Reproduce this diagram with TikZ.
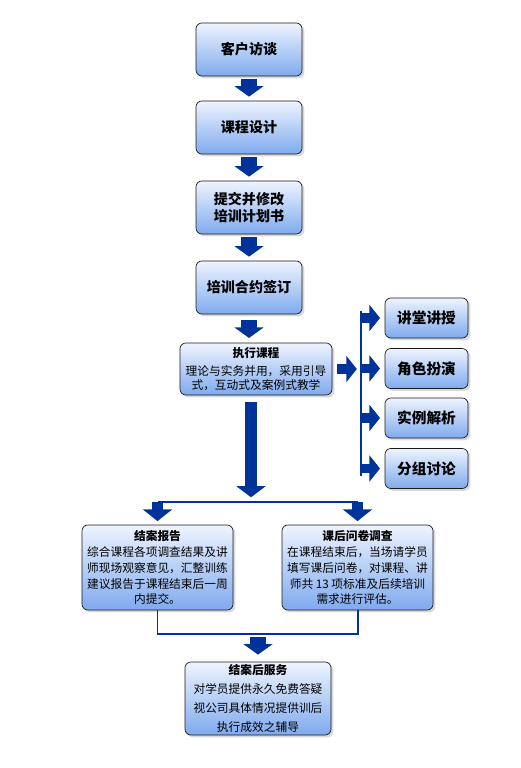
\documentclass[tikz,border=0pt]{standalone}
\usepackage{fontspec}
\setmainfont{Noto Sans CJK SC}
\usetikzlibrary{arrows.meta,shadows}
\definecolor{flowBlue}{HTML}{003399}
\definecolor{boxTop}{HTML}{EEF4FE}
\definecolor{boxBottom}{HTML}{7FAAEE}
\definecolor{boxLine}{HTML}{1A1A1A}

\begin{document}
\begin{tikzpicture}[
  x=0.03cm, y=-0.03cm,
  box/.style={
    draw=boxLine, line width=0.6pt, rounded corners=5pt,
    top color=boxTop, bottom color=boxBottom,
    drop shadow={shadow xshift=2pt, shadow yshift=-2pt, opacity=0.3},
    minimum width=#1, align=center, inner sep=2pt,
  },
  stepbox/.style={box=3.18cm, minimum height=1.59cm, font=\fontsize{12}{15}\selectfont\bfseries},
  subbox/.style={box=2.49cm, minimum height=1.2cm, font=\fontsize{12.5}{14}\selectfont\bfseries},
  textbox/.style={box=#1, font=\fontsize{10}{13.6}\selectfont},
  fatarr/.style={-{Triangle[length=9pt, width=24.5pt]}, line width=13.6pt, flowBlue},
  bigarr/.style={-{Triangle[length=9.5pt, width=24.5pt]}, line width=10pt, flowBlue},
  sidearr/.style={-{Triangle[length=9pt, width=22pt]}, line width=8pt, flowBlue},
  splitarr/.style={-{Triangle[length=10pt, width=24.5pt]}, line width=9pt, flowBlue},
  busline/.style={line width=2.5pt, flowBlue},
  thinline/.style={line width=1.7pt, flowBlue},
]
\useasboundingbox (0,0) rectangle (520,768);

% Main steps
\node[stepbox] (visit) at (249,49.5) {客户访谈};
\node[stepbox] (design) at (249,127.5) {课程设计};
\node[stepbox] (plan) at (249,207.5) {提交并修改\\培训计划书};
\node[stepbox] (sign) at (249,287.5) {培训合约签订};

% Course delivery
\node[textbox=4.56cm, minimum height=1.56cm, font=\fontsize{10}{12}\selectfont] (exec) at (256,369)
  {{\bfseries 执行课程}\\[3pt]理论与实务并用，采用引导\\式，互动式及案例式教学};

% Teaching methods
\node[subbox] (lecture) at (426.5,318) {讲堂讲授};
\node[subbox] (role) at (426.5,368.5) {角色扮演};
\node[subbox] (case) at (426.5,418) {实例解析};
\node[subbox] (group) at (426.5,468.5) {分组讨论};
\coordinate (busTop) at (361,311);
\coordinate (busBottom) at (361,476);

% Evaluation
\node[textbox=4.53cm, minimum height=2.55cm] (report) at (157.5,567.5)
  {{\bfseries 结案报告}\\综合课程各项调查结果及讲\\师现场观察意见，汇整训练\\建议报告于课程结束后一周\\内提交。};
\node[textbox=4.53cm, minimum height=2.55cm] (survey) at (357.5,567.5)
  {{\bfseries 课后问卷调查}\\在课程结束后，当场请学员\\填写课后问卷，对课程、讲\\师共 13 项标准及后续培训\\需求进行评估。};
\coordinate (split) at (251,502);
\coordinate (join) at (258,634);

% Follow-up
\node[textbox=4.38cm, minimum height=2.19cm, font=\fontsize{10}{16}\selectfont] (after) at (258,698.5)
  {{\bfseries 结案后服务}\\对学员提供永久免费答疑\\视公司具体情况提供训后\\执行成效之辅导};

% Arrows
\draw[fatarr, shorten <=2.5pt, shorten >=3.4pt] (visit) -- (design);
\draw[fatarr, shorten <=2.5pt, shorten >=3.4pt] (design) -- (plan);
\draw[fatarr, shorten <=2.5pt, shorten >=3.4pt] (plan) -- (sign);
\draw[fatarr, shorten <=5pt, shorten >=4pt] (sign.south) -- (sign.south |- exec.north);
\draw[sidearr, shorten <=4pt, shorten >=3.5pt] (exec.east) -- (exec.east -| busTop);
\draw[busline] (busTop) -- (busBottom);
\foreach \m in {lecture,role,case,group}
  \draw[sidearr, shorten >=4pt] (busTop |- \m.west) -- (\m.west);
\draw[bigarr, shorten <=6pt, shorten >=4pt] (split |- exec.south) -- (split);
\draw[thinline] (split -| report) -- (split -| survey);
\draw[splitarr, shorten >=3pt] (split -| report) -- (report);
\draw[splitarr, shorten >=3pt] (split -| survey) -- (survey);
\draw[thinline] (report) -- (report |- join) -- (survey |- join) -- (survey);
\draw[fatarr, shorten <=2.5pt, shorten >=6pt] (join) -- (after);

\end{tikzpicture}
\end{document}
